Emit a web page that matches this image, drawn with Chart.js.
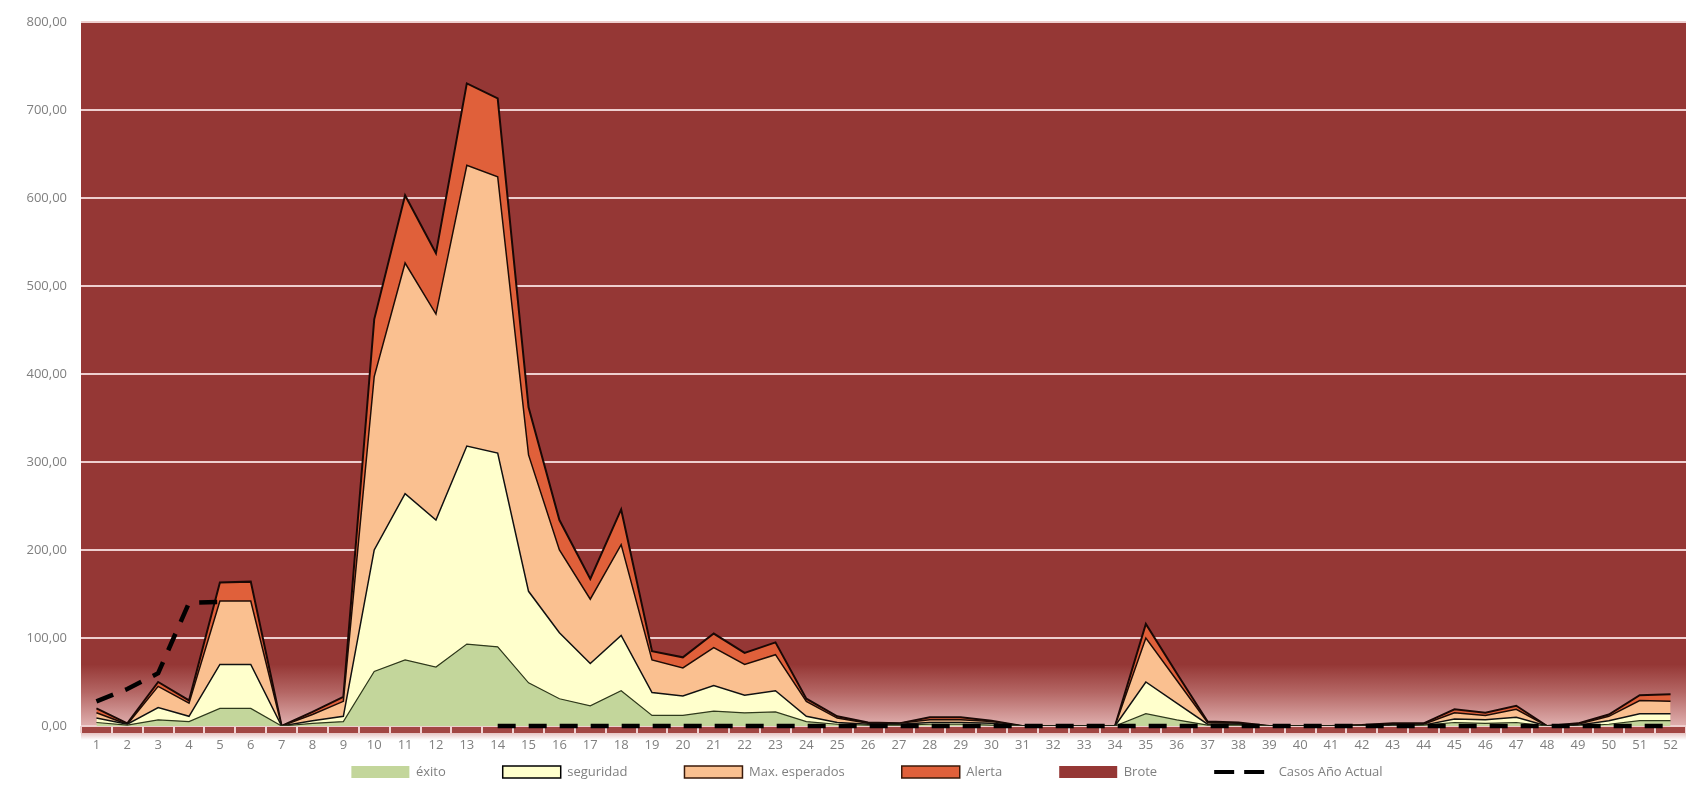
<!DOCTYPE html>
<html>
<head>
<meta charset="utf-8">
<script src="https://cdn.jsdelivr.net/npm/chart.js@4/dist/chart.umd.min.js"></script>
<style>
  html, body { margin: 0; padding: 0; background: #ffffff; }
  #wrap { width: 1686px; height: 791px; position: relative; }
</style>
</head>
<body>
<div id="wrap"><canvas id="canalChart"></canvas></div>
<script>
// semanas epidemiologicas
const semanas = ['1','2','3','4','5','6','7','8','9','10','11','12','13','14','15','16','17','18','19','20','21','22','23','24','25','26',
  '27','28','29','30','31','32','33','34','35','36','37','38','39','40','41','42','43','44','45','46','47','48','49','50','51','52']

// franjas del canal endemico (espesor de cada franja, apiladas)
const exito = [4, 1, 7, 5, 20, 20, 0, 3, 5, 62, 75, 67, 93, 90, 49, 31, 23, 40, 12, 12, 17, 15, 16, 5, 2, 1,
  1, 2, 2, 1, 0, 0, 0, 0, 14, 7, 1, 1, 0, 0, 0, 0, 0, 1, 4, 3, 4, 0, 0, 2, 6, 6]
const seguridad = [5, 1, 14, 6, 50, 50, 0, 3, 6, 138, 189, 167, 225, 220, 104, 75, 48, 63, 26, 22, 29, 20, 24, 6, 2, 1,
  1, 2, 2, 2, 0, 0, 0, 0, 36, 19, 1, 1, 0, 0, 0, 0, 1, 0, 4, 4, 6, 0, 1, 4, 8, 8]
const maxEsperados = [6, 0, 24, 15, 72, 72, 0, 7, 17, 197, 262, 234, 319, 314, 155, 94, 73, 103, 37, 32, 43, 35, 41, 17, 5, 1,
  1, 3, 3, 2, 0, 0, 0, 0, 50, 26, 2, 1, 0, 0, 0, 1, 1, 1, 7, 5, 9, 0, 1, 5, 15, 14]
const alerta = [5, 1, 5, 3, 21, 22, 0, 3, 5, 65, 77, 69, 93, 89, 54, 34, 23, 40, 10, 12, 16, 13, 14, 3, 2, 1,
  0, 3, 3, 1, 0, 0, 0, 0, 16, 8, 1, 1, 0, 0, 0, 0, 1, 1, 4, 3, 4, 0, 1, 2, 6, 8]
// casos del año actual (sin dato semanas 6 a 13)
const casosActual = [28, 42, 60, 140, 141, null, null, null, null, null, null, null, null, 0, 0, 0, 0, 0, 0, 0, 0, 0, 0, 0, 0, 0,
  0, 0, 0, 0, 0, 0, 0, 0, 0, 0, 0, 0, 0, 0, 0, 0, 0, 0, 0, 0, 0, 0, 0, 0, 0, 0]

const yTicks = [0, 100, 200, 300, 400, 500, 600, 700, 800]

Chart.defaults.font.family = '"Open Sans", sans-serif'
Chart.defaults.font.size = 13
Chart.defaults.color = '#7f7f7f'

const BROTE = '#953735'
const LEGEND_PAD = 57

// fondo "Brote": ocupa toda el area del grafico, con el degradado abajo
const fondoBrote = {
  id: 'fondoBrote',
  afterLayout(chart) {
    // leyenda un poco a la derecha y a la altura del original
    const lg = chart.legend
    lg.top = 772 - 6.5 - LEGEND_PAD
    lg.left += 24
    lg.right += 24
  },
  beforeDraw(chart) {
    const { ctx, chartArea } = chart
    if (!chartArea) return
    const y = chart.scales.y
    const w = chartArea.right - chartArea.left
    const gTop = y.getPixelForValue(70)
    const g = ctx.createLinearGradient(0, gTop, 0, chartArea.bottom)
    g.addColorStop(0, BROTE)
    g.addColorStop(0.45, '#b46664')
    g.addColorStop(1, '#e0b0af')
    ctx.save()
    ctx.fillStyle = BROTE
    ctx.fillRect(chartArea.left, chartArea.top, w, chartArea.bottom - chartArea.top)
    ctx.fillStyle = g
    ctx.fillRect(chartArea.left, gTop, w, chartArea.bottom - gTop)
    // franja del eje x
    ctx.fillStyle = '#a24643'
    ctx.fillRect(chartArea.left, chartArea.bottom, w, 7)
    const g2 = ctx.createLinearGradient(0, chartArea.bottom + 7, 0, chartArea.bottom + 14)
    g2.addColorStop(0, '#e6c4c3')
    g2.addColorStop(1, '#ffffff')
    ctx.fillStyle = g2
    ctx.fillRect(chartArea.left, chartArea.bottom + 7, w, 7)
    ctx.restore()
  }
}

const legendStyles = [
  { fill: '#c3d69b', stroke: '#c3d69b', width: 0, point: 'rect' },
  { fill: '#ffffcc', stroke: '#000000', width: 1.5, point: 'rect' },
  { fill: '#fac090', stroke: '#3a1a0a', width: 1.5, point: 'rect' },
  { fill: '#e0603a', stroke: '#3a1a0a', width: 1.5, point: 'rect' },
  { fill: BROTE, stroke: BROTE, width: 0, point: 'rect' },
  { fill: '#000000', stroke: '#000000', width: 4, point: 'line', dash: [20, 10] }
]

const ctx = document.getElementById('canalChart')

new Chart(ctx, {
  type: 'line',
  data: {
    labels: semanas,
    datasets: [
      {
        label: 'éxito',
        data: exito,
        stack: 'canal',
        fill: 'origin',
        backgroundColor: '#c3d69b',
        borderColor: '#2f3a1c',
        borderWidth: 1.2
      },
      {
        label: 'seguridad',
        data: seguridad,
        stack: 'canal',
        fill: '-1',
        backgroundColor: '#ffffcc',
        borderColor: '#111111',
        borderWidth: 1.5
      },
      {
        label: 'Max. esperados',
        data: maxEsperados,
        stack: 'canal',
        fill: '-1',
        backgroundColor: '#fac090',
        borderColor: '#1e0c06',
        borderWidth: 1.5
      },
      {
        label: 'Alerta',
        data: alerta,
        stack: 'canal',
        fill: '-1',
        backgroundColor: '#e0603a',
        borderColor: '#1a0805',
        borderWidth: 2
      },
      {
        // se dibuja como fondo del area de trazado (plugin fondoBrote)
        label: 'Brote',
        data: [],
        stack: 'brote',
        fill: false,
        showLine: false
      },
      {
        label: 'Casos Año Actual',
        data: casosActual,
        stack: 'casos',
        fill: false,
        clip: false,
        borderColor: '#000000',
        borderWidth: 4.5,
        borderDash: [18, 13],
        borderCapStyle: 'butt',
        order: -1
      }
    ]
  },
  options: {
    responsive: true,
    maintainAspectRatio: false,
    animation: false,
    elements: {
      point: { radius: 0, hoverRadius: 0 },
      line: { tension: 0 }
    },
    layout: { padding: { top: 19, right: 0, bottom: 0, left: 0 } },
    scales: {
      x: {
        offset: true,
        grid: {
          display: true,
          offset: true,
          drawOnChartArea: false,
          drawTicks: true,
          tickLength: 7,
          color: '#f0d2d2',
          lineWidth: 2
        },
        border: { display: false },
        ticks: {
          autoSkip: false,
          maxRotation: 0,
          padding: 4,
          color: '#7f7f7f',
          font: { size: 13 }
        },
        afterFit(scale) { scale.height = 35 }
      },
      y: {
        stacked: true,
        min: 0,
        max: 800,
        afterBuildTicks(scale) { scale.ticks = yTicks.map(v => ({ value: v })) },
        grid: {
          color: '#eecfcf',
          lineWidth: 2,
          drawTicks: false
        },
        border: { display: false },
        ticks: {
          padding: 14,
          color: '#7f7f7f',
          font: { size: 13 },
          callback: v => v.toFixed(2).replace('.', ',')
        },
        afterFit(scale) { scale.width = 81 }
      }
    },
    plugins: {
      tooltip: { enabled: false },
      legend: {
        position: 'bottom',
        maxHeight: 30,
        labels: {
          usePointStyle: true,
          pointStyleWidth: 58,
          boxHeight: 12,
          padding: LEGEND_PAD,
          color: '#7f7f7f',
          font: { size: 13 },
          generateLabels(chart) {
            return chart.data.datasets.map((ds, i) => ({
              text: ds.label,
              datasetIndex: i,
              fillStyle: legendStyles[i].fill,
              strokeStyle: legendStyles[i].stroke,
              lineWidth: legendStyles[i].width,
              lineDash: legendStyles[i].dash || [],
              pointStyle: legendStyles[i].point,
              fontColor: '#7f7f7f',
              hidden: false
            }))
          }
        }
      }
    }
  },
  plugins: [fondoBrote]
})
</script>
</body>
</html>
